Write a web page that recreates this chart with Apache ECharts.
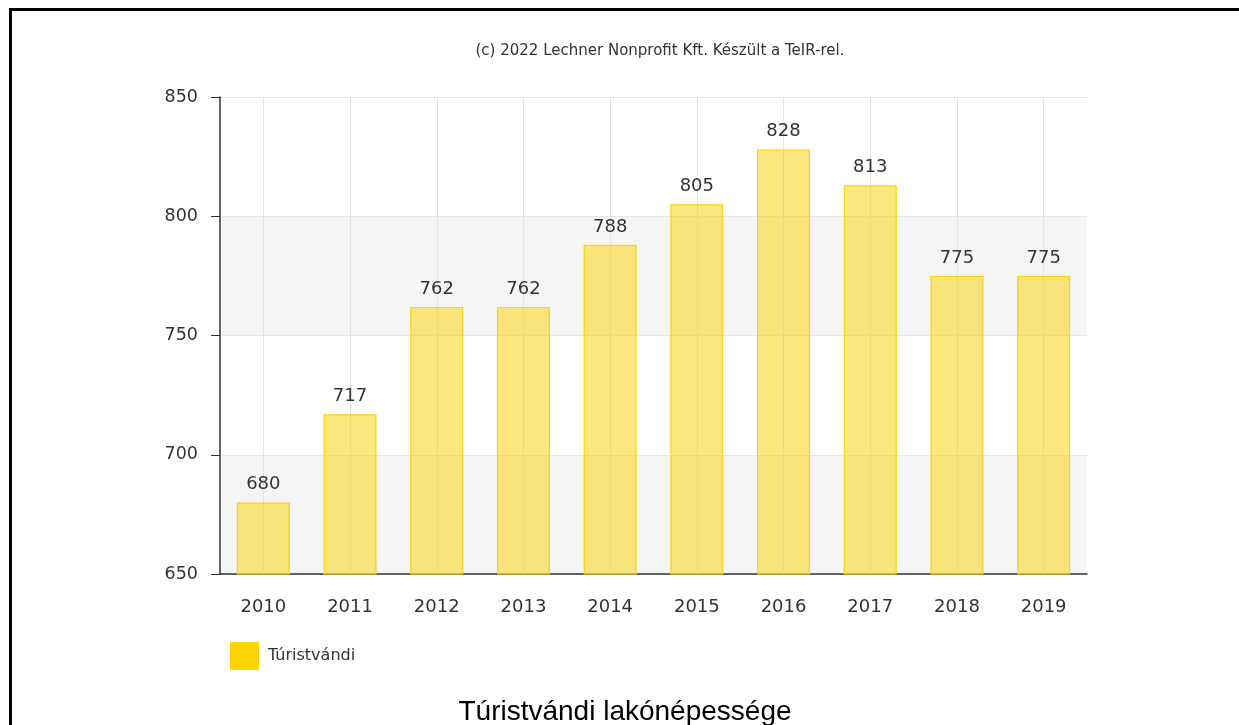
<!DOCTYPE html>
<html>
<head>
<meta charset="utf-8">
<script src="https://cdn.jsdelivr.net/npm/echarts@6/dist/echarts.min.js"></script>
<style>
  html, body { margin: 0; padding: 0; background: #fff; }
  #main { position: absolute; left: 0; top: 0; width: 1239px; height: 725px; }
  #frame { position: absolute; left: 9px; top: 8px; width: 1240px; height: 730px;
           border-left: 3px solid #000; border-top: 3px solid #000; pointer-events: none; }
</style>
</head>
<body>
<div id="main"></div>
<div id="frame"></div>
<script>
const years = ['2010', '2011', '2012', '2013', '2014', '2015', '2016', '2017', '2018', '2019']
const population = [680, 717, 762, 762, 788, 805, 828, 813, 775, 775]
const seriesName = 'Túristvándi'
const credit = '(c) 2022 Lechner Nonprofit Kft. Készült a TeIR-rel.'
const chartTitle = 'Túristvándi lakónépessége'

function main() {
  var chart = echarts.init(document.getElementById('main'))

  let option = {
    backgroundColor: '#fff',
    animation: false,
    textStyle: { fontFamily: 'DejaVu Sans' },
    title: [
      {
        text: credit,
        left: 655,
        top: 39,
        textAlign: 'center',
        textStyle: { fontSize: 15, fontWeight: 'normal', color: '#333', fontFamily: 'DejaVu Sans' }
      },
      {
        text: chartTitle,
        left: 620,
        top: 693,
        textAlign: 'center',
        textStyle: { fontSize: 28, fontWeight: 'normal', color: '#000', fontFamily: 'Liberation Sans' }
      }
    ],
    legend: {
      left: 225,
      top: 637,
      icon: 'rect',
      itemWidth: 29,
      itemHeight: 28,
      itemGap: 10,
      data: [{ name: seriesName, itemStyle: { color: '#fdd600', opacity: 1, borderWidth: 0 } }],
      textStyle: { fontSize: 16, color: '#333', fontFamily: 'DejaVu Sans', padding: [0, 0, 0, 4] }
    },
    grid: { left: 220, right: 152, top: 97, bottom: 151, containLabel: false },
    xAxis: {
      type: 'category',
      data: years,
      axisLine: { lineStyle: { color: '#333', width: 1.5 } },
      axisTick: { alignWithLabel: true, length: 9, lineStyle: { color: '#333' } },
      axisLabel: { fontSize: 18, color: '#333', margin: 24 },
      splitLine: { show: false }
    },
    yAxis: {
      type: 'value',
      min: 650,
      max: 850,
      interval: 50,
      axisLine: { show: true, lineStyle: { color: '#333', width: 1.5 } },
      axisTick: { show: true, length: 9, lineStyle: { color: '#333' } },
      axisLabel: { fontSize: 17.5, color: '#333', margin: 22 },
      splitLine: { lineStyle: { color: '#e6e6e6' } },
      splitArea: { show: true, areaStyle: { color: ['#f5f5f5', '#ffffff'] } }
    },
    series: [
      {
        name: seriesName,
        type: 'bar',
        z: 3,
        data: population,
        barWidth: 53,
        itemStyle: { color: 'rgba(250, 213, 20, 0.55)', borderColor: '#f8d310', borderWidth: 1.2 },
        label: { show: true, position: 'top', distance: 9, fontSize: 18, color: '#333' },
        markLine: {
          silent: true,
          z: 1,
          symbol: 'none',
          label: { show: false },
          lineStyle: { color: '#e3e3e3', type: 'solid', width: 1 },
          data: years.map(y => [{ xAxis: y, yAxis: 650 }, { xAxis: y, yAxis: 850 }])
        }
      }
    ]
  }

  chart.setOption(option)
}

main()
</script>
</body>
</html>
